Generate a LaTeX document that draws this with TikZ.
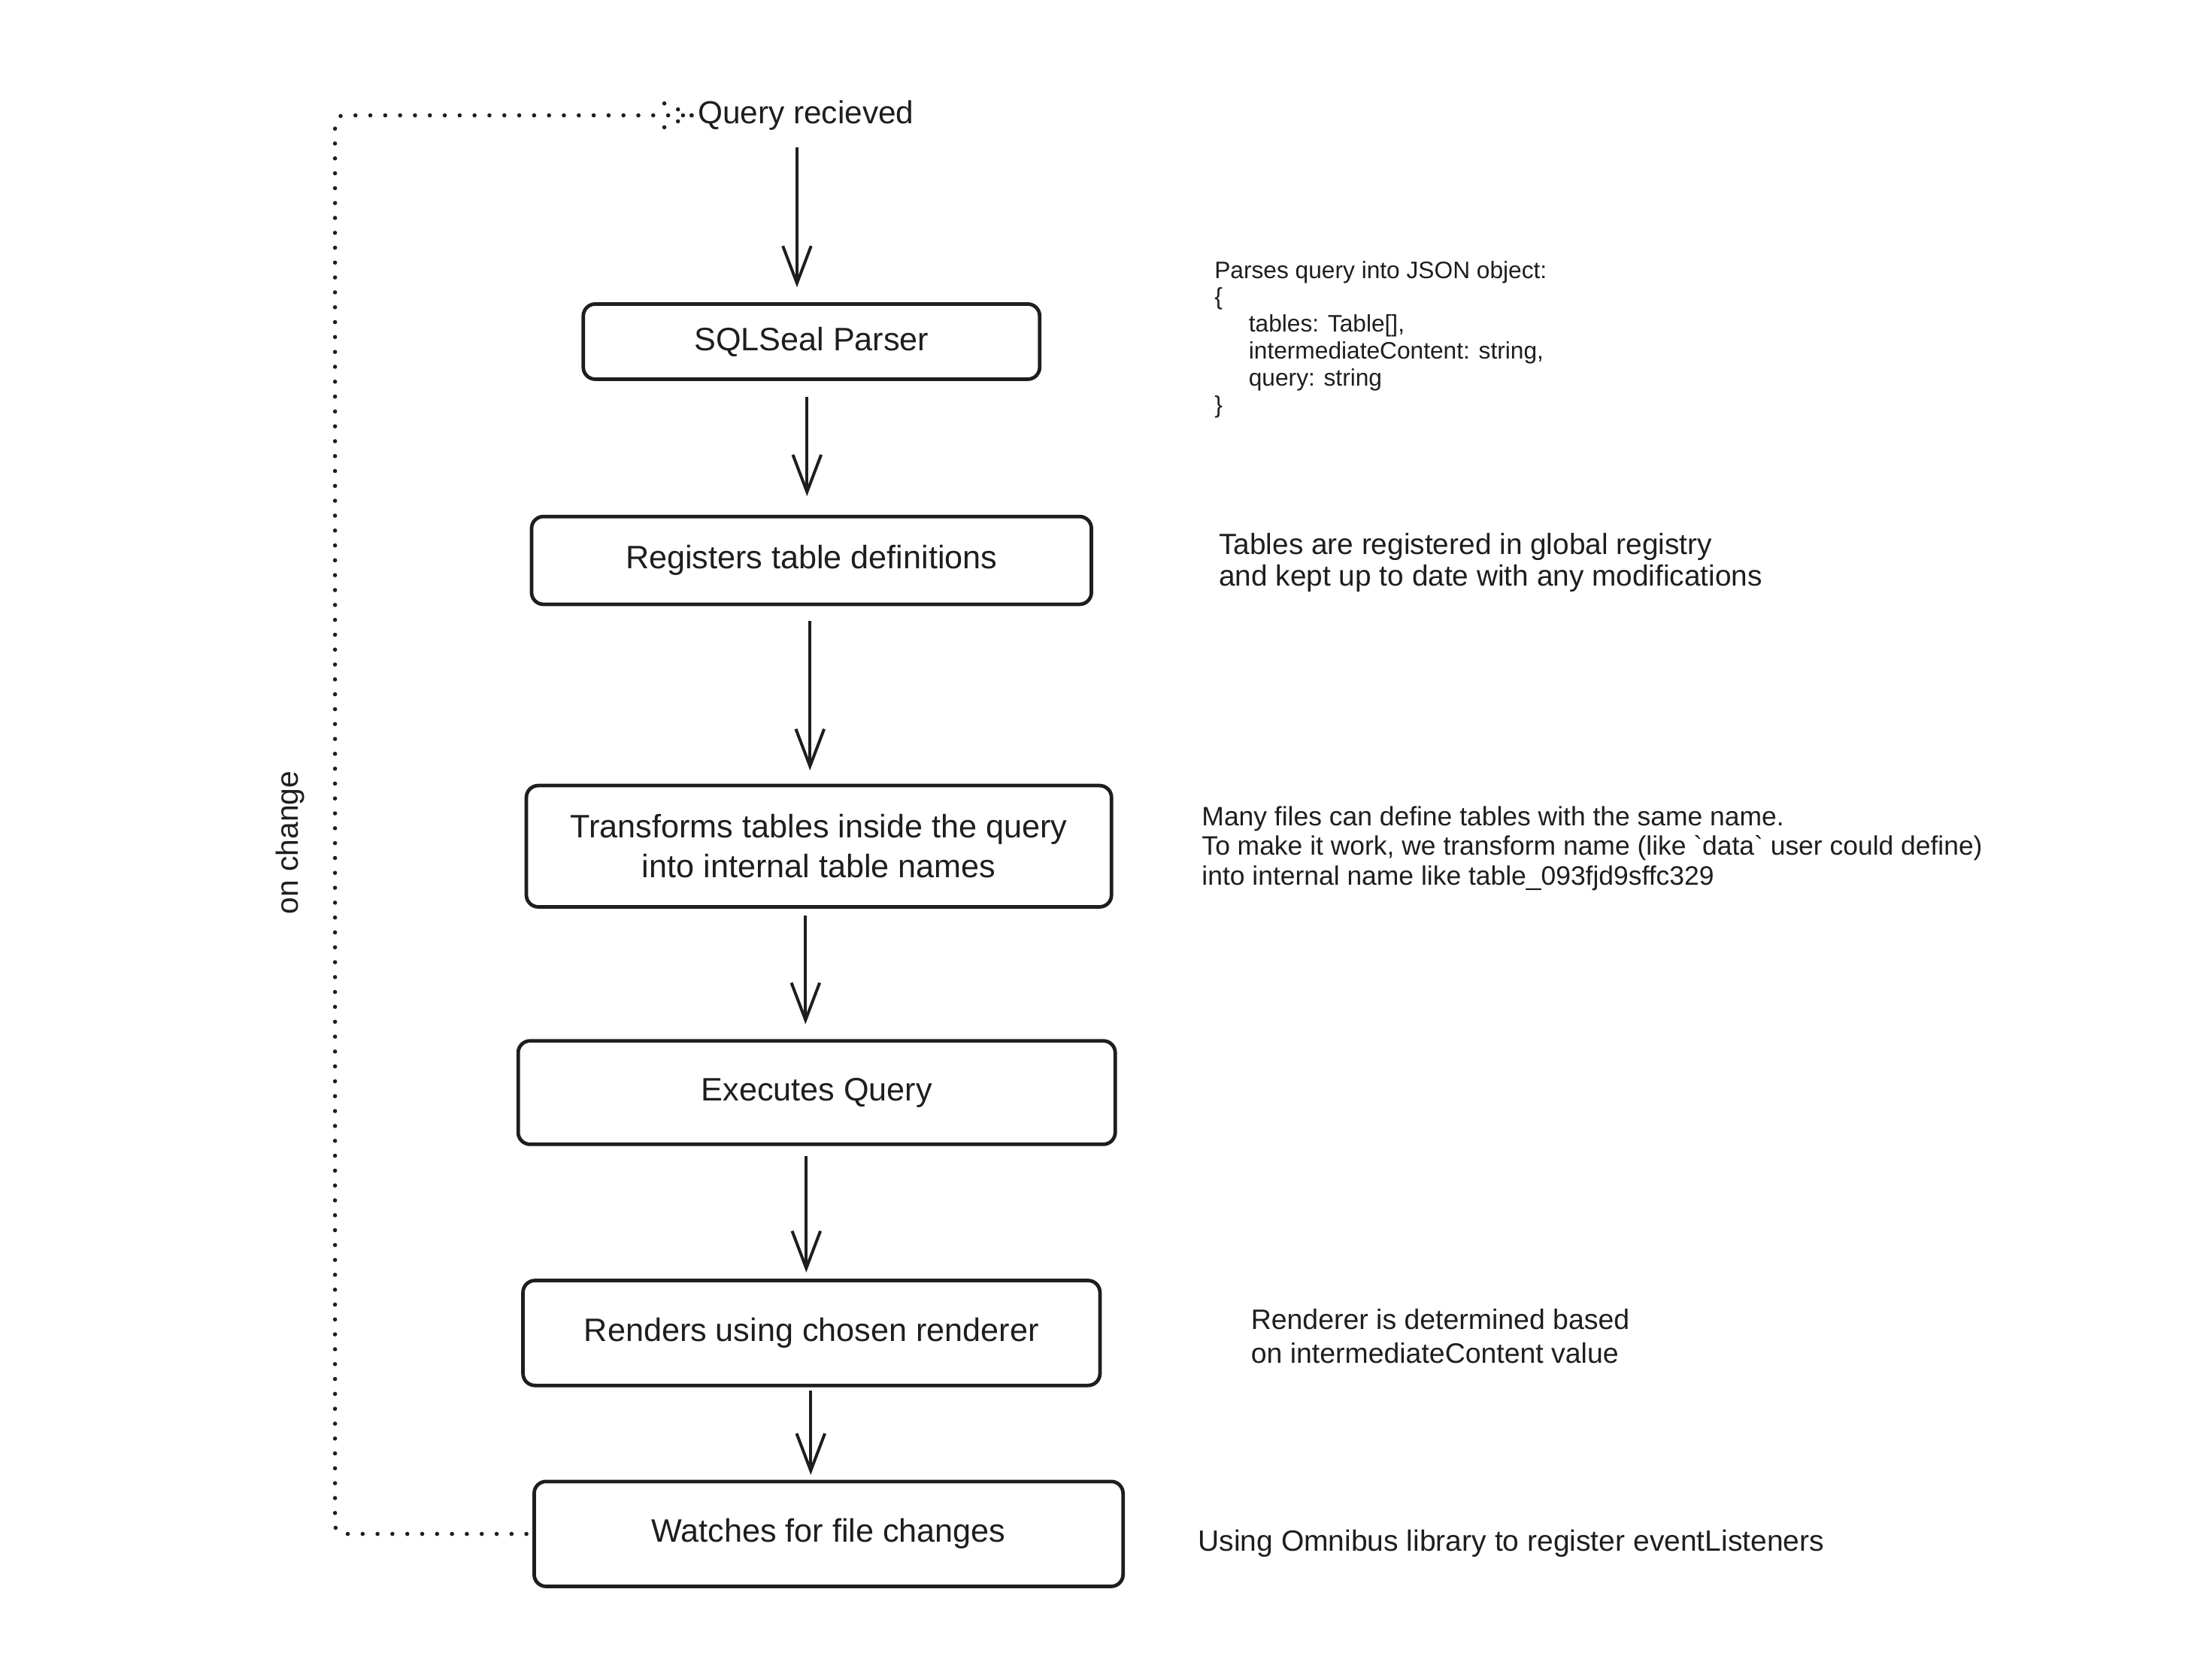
\documentclass[tikz,border=0pt]{standalone}
\usepackage{fontspec}
\setmainfont{Liberation Sans}
\usetikzlibrary{arrows.meta}
\definecolor{ink}{HTML}{1E1E1E}
\begin{document}
\begin{tikzpicture}[x=0.5pt,y=-0.5pt,
  box/.style={draw=ink, line width=2.4pt, rounded corners=8pt, align=center, text=ink, font=\fontsize{21.8}{27}\selectfont, inner sep=0pt},
  flow/.style={draw=ink, line width=2pt, -{Straight Barb[length=25pt,width=19pt,line width=2pt]}},
  loopline/.style={draw=ink, line width=2.8pt, line cap=round, dash pattern=on 0pt off 10pt},
  note/.style={anchor=west, align=left, text=ink, inner sep=0pt}]
\useasboundingbox (0,0) rectangle (2939,2257);
\fill[white] (0,0) rectangle (2939,2257);

\node[anchor=west, inner sep=0pt, text=ink, font=\fontsize{21.4}{26}\selectfont] (q) at (937,155) {Query recieved};

\node[box, minimum width=306.5pt, minimum height=50.5pt] (b1) at (1090,459) {SQLSeal Parser};
\node[box, minimum width=376pt, minimum height=59pt] (b2) at (1090,753) {Registers table definitions};
\node[box, minimum width=393pt, minimum height=81.5pt] (b3) at (1100,1137) {Transforms tables inside the query\\into internal table names};
\node[box, minimum width=401pt, minimum height=69.5pt] (b4) at (1097,1468) {Executes Query};
\node[box, minimum width=387.5pt, minimum height=70.5pt] (b5) at (1090,1791) {Renders using chosen renderer};
\node[box, minimum width=395.5pt, minimum height=70.5pt] (b6) at (1113,2061) {Watches for file changes};

\draw[flow, shorten <=11.5pt, shorten >=10pt] ([xshift=-6pt]q.south) -- ([xshift=-6pt]q.south |- b1.north);
\draw[flow, shorten <=10.5pt, shorten >=12.5pt] ([xshift=-3pt]b1.south) -- ([xshift=-3pt]b1.south |- b2.north);
\draw[flow, shorten <=10pt, shorten >=9pt] ([xshift=-1pt]b2.south) -- ([xshift=-1pt]b2.south |- b3.north);
\draw[flow, shorten <=4.75pt, shorten >=10pt] ([xshift=-9pt]b3.south) -- ([xshift=-9pt]b3.south |- b4.north);
\draw[flow, shorten <=6.75pt, shorten >=4.25pt] ([xshift=-7pt]b4.south) -- ([xshift=-7pt]b4.south |- b5.north);
\draw[flow, shorten <=2.25pt, shorten >=3.25pt] ([xshift=-0.5pt]b5.south) -- ([xshift=-0.5pt]b5.south |- b6.north);

\coordinate (lx) at (450,0);
\coordinate (tip) at ([xshift=-4pt]q.west);
\draw[loopline, rounded corners=6pt, shorten <=4pt] (b6.west) -- (b6.west -| lx) -- (lx |- tip) -- (tip);
\draw[loopline] (tip) -- ++(-48,-21);
\draw[loopline] (tip) -- ++(-48,21);

\node[rotate=90, text=ink, inner sep=0pt, font=\fontsize{20.6}{24}\selectfont] (oc) at (390,1132) {on change};

\node[note, font=\fontsize{16}{18.1}\selectfont] (n1) at (1631,456) {Parses query into JSON object:\\\{\\\hspace*{23pt}tables: Table[],\\\hspace*{23pt}intermediateContent: string,\\\hspace*{23pt}query: string\\\}};
\node[note, font=\fontsize{19.6}{21.3}\selectfont] (n2) at (1637,756) {Tables are registered in global registry\\and kept up to date with any modifications};
\node[note, font=\fontsize{17.9}{20}\selectfont] (n3) at (1614,1140) {Many files can define tables with the same name.\\To make it work, we transform name (like \textasciigrave data\textasciigrave\ user could define)\\into internal name like table\_093fjd9sffc329};
\node[note, font=\fontsize{18.9}{22.7}\selectfont] (n4) at (1680,1795) {Renderer is determined based\\on intermediateContent value};
\node[note, font=\fontsize{19.7}{22}\selectfont] (n5) at (1609,2074) {Using Omnibus library to register eventListeners};
\end{tikzpicture}
\end{document}
